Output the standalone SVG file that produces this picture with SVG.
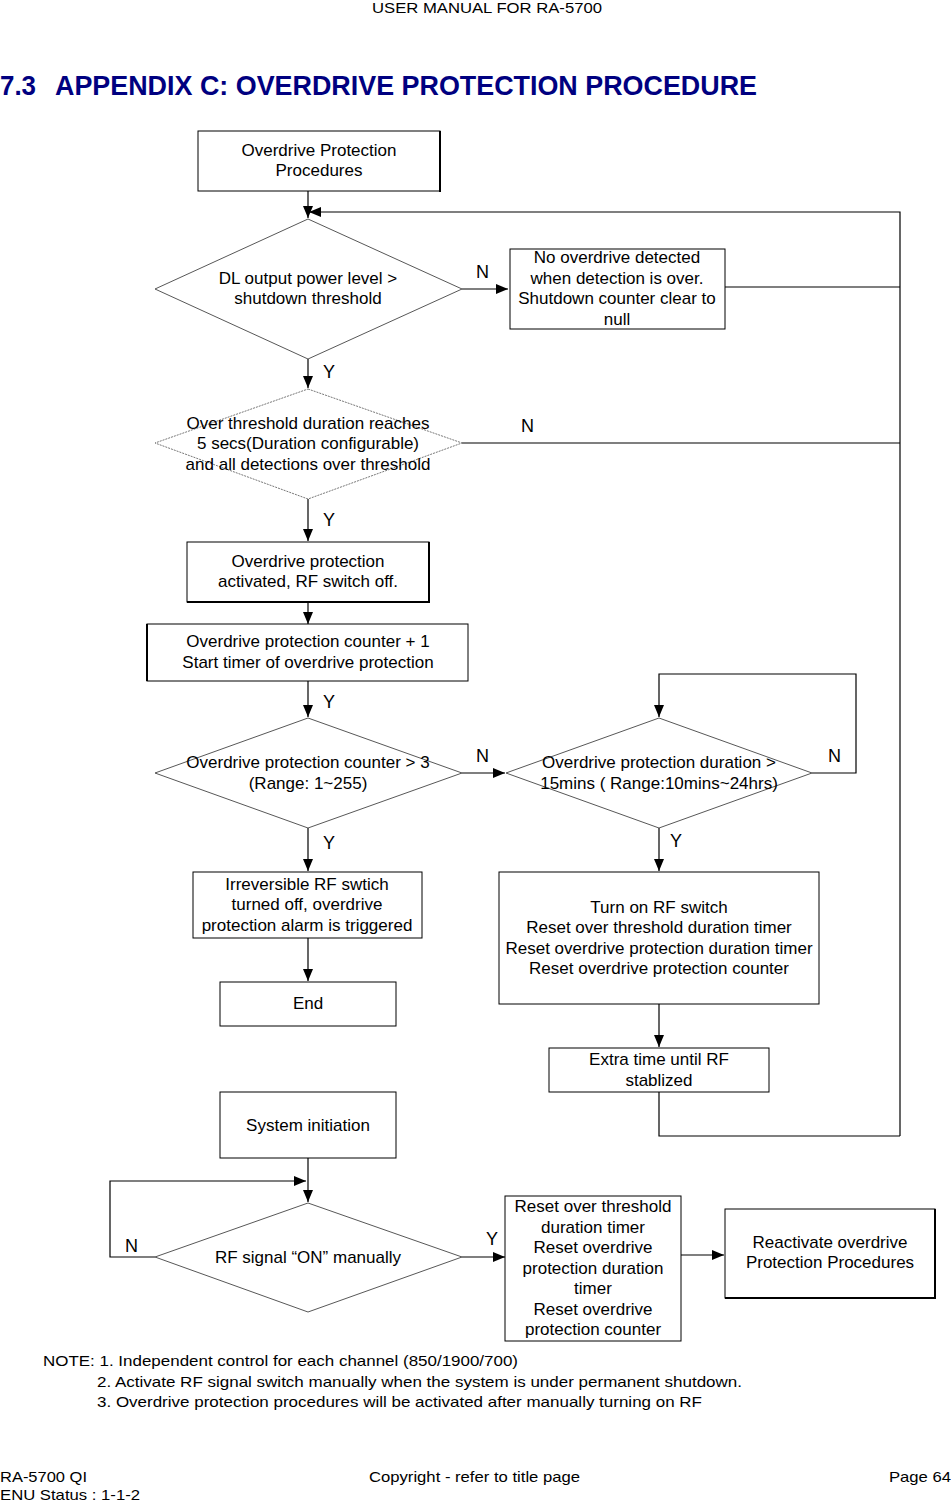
<svg xmlns="http://www.w3.org/2000/svg" width="951" height="1502" viewBox="0 0 951 1502">
<defs>
<marker id="ah" markerUnits="userSpaceOnUse" markerWidth="14" markerHeight="11" refX="12" refY="5" orient="auto">
<path d="M0,0 L12,5 L0,10 z" fill="#000"/>
</marker>
<style>
.box{fill:#fff;stroke:#000;stroke-width:1}
.dia{fill:#fff;stroke:#444;stroke-width:0.9}
.dia2{fill:#fff;stroke:#777;stroke-width:1;stroke-dasharray:2,1}
.t{font-family:"Liberation Sans",Arial,sans-serif;font-size:17px;fill:#000;text-anchor:middle}
.lb{font-family:"Liberation Sans",Arial,sans-serif;font-size:18px;fill:#000}
.c{fill:none;stroke:#000;stroke-width:1.2}
.a{fill:none;stroke:#000;stroke-width:1.2;marker-end:url(#ah)}
.pg{font-family:"Liberation Sans",Arial,sans-serif;font-size:15px;fill:#000}
</style>
</defs>
<rect width="951" height="1502" fill="#fff"/>

<g id="header">
<text class="pg" x="372" y="13" textLength="230" lengthAdjust="spacingAndGlyphs">USER MANUAL FOR RA-5700</text>
<text x="0" y="95" font-family="Liberation Sans,Arial,sans-serif" font-weight="bold" font-size="27" fill="#000080" textLength="36" lengthAdjust="spacingAndGlyphs">7.3</text>
<text x="55" y="95" font-family="Liberation Sans,Arial,sans-serif" font-weight="bold" font-size="27" fill="#000080" textLength="702" lengthAdjust="spacingAndGlyphs">APPENDIX C: OVERDRIVE PROTECTION PROCEDURE</text>
</g>

<g id="connectors">
<line class="a" x1="308" y1="191" x2="308" y2="218"/>
<polyline class="a" points="900,287 900,212 309,212"/>
<line class="c" x1="725" y1="287" x2="900" y2="287"/>
<line class="a" x1="462" y1="289" x2="508" y2="289"/>
<line class="a" x1="308" y1="359" x2="308" y2="388"/>
<line class="c" x1="462" y1="443" x2="900" y2="443"/>
<line class="c" x1="900" y1="287" x2="900" y2="1136"/>
<line class="a" x1="308" y1="499" x2="308" y2="541"/>
<line class="a" x1="308" y1="602" x2="308" y2="624"/>
<line class="a" x1="308" y1="681" x2="308" y2="717"/>
<line class="a" x1="462" y1="773" x2="505" y2="773"/>
<polyline class="a" points="812,773 856,773 856,674 659,674 659,717"/>
<line class="a" x1="308" y1="828" x2="308" y2="871"/>
<line class="a" x1="308" y1="938" x2="308" y2="981"/>
<line class="a" x1="659" y1="828" x2="659" y2="871"/>
<line class="a" x1="659" y1="1004" x2="659" y2="1047"/>
<polyline class="c" points="659,1092 659,1136 900,1136"/>
<line class="a" x1="308" y1="1158" x2="308" y2="1202"/>
<polyline class="a" points="155,1257 110,1257 110,1181 306,1181"/>
<line class="a" x1="462" y1="1257" x2="505" y2="1257"/>
<line class="a" x1="681" y1="1255" x2="724" y2="1255"/>
</g>

<g id="labels">
<text class="lb" x="476" y="278">N</text>
<text class="lb" x="323" y="378">Y</text>
<text class="lb" x="521" y="432">N</text>
<text class="lb" x="323" y="526">Y</text>
<text class="lb" x="323" y="708">Y</text>
<text class="lb" x="476" y="762">N</text>
<text class="lb" x="828" y="762">N</text>
<text class="lb" x="323" y="849">Y</text>
<text class="lb" x="670" y="847">Y</text>
<text class="lb" x="125" y="1252">N</text>
<text class="lb" x="486" y="1245">Y</text>
</g>

<g id="n-start">
<rect class="box" x="198" y="131" width="242" height="60"/>
<line x1="440" y1="131" x2="440" y2="192" stroke="#000" stroke-width="2"/>
<text class="t" x="319" y="156">Overdrive Protection</text>
<text class="t" x="319" y="176">Procedures</text>
</g>

<g id="d-power">
<polygon class="dia" points="308,219 462,289 308,359 155,289"/>
<text class="t" x="308" y="284">DL output power level &gt;</text>
<text class="t" x="308" y="304">shutdown threshold</text>
</g>

<g id="n-nooverdrive">
<rect class="box" x="510" y="249" width="215" height="80"/>
<text class="t" x="617" y="263">No overdrive detected</text>
<text class="t" x="617" y="284">when detection is over.</text>
<text class="t" x="617" y="304">Shutdown counter clear to</text>
<text class="t" x="617" y="325">null</text>
</g>

<g id="d-duration">
<polygon class="dia2" points="308,389 462,443 308,499 155,443"/>
<text class="t" x="308" y="429">Over threshold duration reaches</text>
<text class="t" x="308" y="449">5 secs(Duration configurable)</text>
<text class="t" x="308" y="470">and all detections over threshold</text>
</g>

<g id="n-activated">
<rect class="box" x="187" y="542" width="242" height="60"/>
<line x1="429" y1="542" x2="429" y2="603" stroke="#000" stroke-width="2"/>
<line x1="187" y1="602" x2="430" y2="602" stroke="#000" stroke-width="2"/>
<text class="t" x="308" y="567">Overdrive protection</text>
<text class="t" x="308" y="587">activated, RF switch off.</text>
</g>

<g id="n-counter">
<rect class="box" x="147" y="624" width="321" height="57"/>
<line x1="147" y1="624" x2="147" y2="681" stroke="#000" stroke-width="2"/>
<text class="t" x="308" y="647">Overdrive protection counter + 1</text>
<text class="t" x="308" y="668">Start timer of overdrive protection</text>
</g>

<g id="d-counter">
<polygon class="dia" points="308,718 462,773 308,828 155,773"/>
<text class="t" x="308" y="768">Overdrive protection counter &gt; 3</text>
<text class="t" x="308" y="789">(Range: 1~255)</text>
</g>

<g id="d-protduration">
<polygon class="dia" points="659,718 812,773 659,828 506,773"/>
<text class="t" x="659" y="768">Overdrive protection duration &gt;</text>
<text class="t" x="659" y="789">15mins ( Range:10mins~24hrs)</text>
</g>

<g id="n-irreversible">
<rect class="box" x="193" y="872" width="229" height="66"/>
<text class="t" x="307" y="890">Irreversible RF swtich</text>
<text class="t" x="307" y="910">turned off, overdrive</text>
<text class="t" x="307" y="931">protection alarm is triggered</text>
</g>

<g id="n-end">
<rect class="box" x="220" y="982" width="176" height="44"/>
<text class="t" x="308" y="1009">End</text>
</g>

<g id="n-turnon">
<rect class="box" x="499" y="872" width="320" height="132"/>
<text class="t" x="659" y="913">Turn on RF switch</text>
<text class="t" x="659" y="933">Reset over threshold duration timer</text>
<text class="t" x="659" y="954">Reset overdrive protection duration timer</text>
<text class="t" x="659" y="974">Reset overdrive protection counter</text>
</g>

<g id="n-extra">
<rect class="box" x="549" y="1048" width="220" height="44"/>
<text class="t" x="659" y="1065">Extra time until RF</text>
<text class="t" x="659" y="1086">stablized</text>
</g>

<g id="n-sysinit">
<rect class="box" x="220" y="1092" width="176" height="66"/>
<text class="t" x="308" y="1131">System initiation</text>
</g>

<g id="d-rfon">
<polygon class="dia" points="308,1203 462,1257 308,1312 155,1257"/>
<text class="t" x="308" y="1263">RF signal “ON” manually</text>
</g>

<g id="n-reset">
<rect class="box" x="505" y="1196" width="176" height="145"/>
<text class="t" x="593" y="1212">Reset over threshold</text>
<text class="t" x="593" y="1233">duration timer</text>
<text class="t" x="593" y="1253">Reset overdrive</text>
<text class="t" x="593" y="1274">protection duration</text>
<text class="t" x="593" y="1294">timer</text>
<text class="t" x="593" y="1315">Reset overdrive</text>
<text class="t" x="593" y="1335">protection counter</text>
</g>

<g id="n-reactivate">
<rect class="box" x="725" y="1209" width="210" height="89"/>
<line x1="935" y1="1209" x2="935" y2="1299" stroke="#000" stroke-width="2"/>
<line x1="725" y1="1298" x2="936" y2="1298" stroke="#000" stroke-width="2"/>
<text class="t" x="830" y="1248">Reactivate overdrive</text>
<text class="t" x="830" y="1268">Protection Procedures</text>
</g>

<g id="note">
<text class="pg" x="43" y="1366" font-size="16" textLength="475" lengthAdjust="spacingAndGlyphs">NOTE: 1. Independent control for each channel (850/1900/700)</text>
<text class="pg" x="97" y="1387" font-size="16" textLength="645" lengthAdjust="spacingAndGlyphs">2. Activate RF signal switch manually when the system is under permanent shutdown.</text>
<text class="pg" x="97" y="1407" font-size="16" textLength="605" lengthAdjust="spacingAndGlyphs">3. Overdrive protection procedures will be activated after manually turning on RF</text>
</g>

<g id="footer">
<text class="pg" x="0" y="1482" textLength="87" lengthAdjust="spacingAndGlyphs">RA-5700 QI</text>
<text class="pg" x="0" y="1500" textLength="140" lengthAdjust="spacingAndGlyphs">ENU Status : 1-1-2</text>
<text class="pg" x="369" y="1482" textLength="211" lengthAdjust="spacingAndGlyphs">Copyright - refer to title page</text>
<text class="pg" x="889" y="1482" textLength="62" lengthAdjust="spacingAndGlyphs">Page 64</text>
</g>
</svg>
